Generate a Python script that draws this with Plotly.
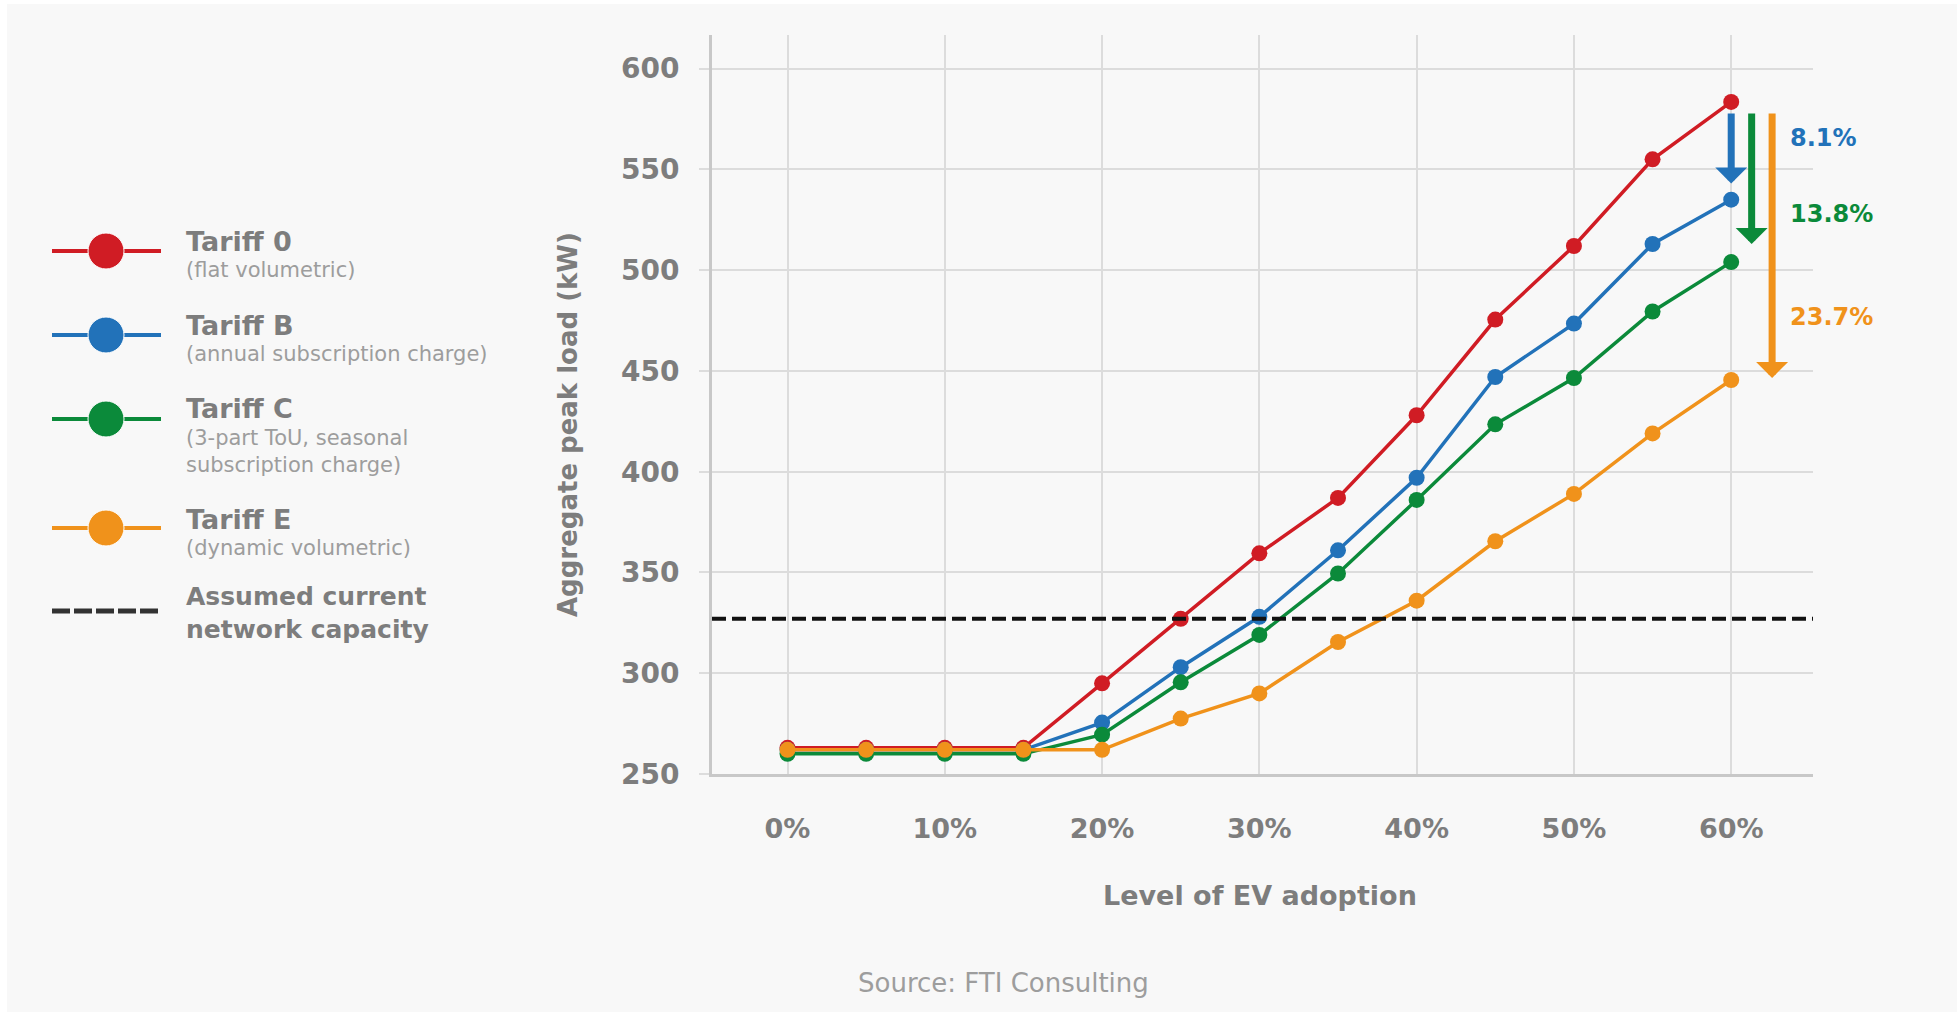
import plotly.graph_objects as go

# ---------------- data ----------------
EV_LEVELS = [0, 5, 10, 15, 20, 25, 30, 35, 40, 45, 50, 55, 60]
TARIFF_0 = [263, 263, 263, 263, 295, 327, 359.5, 387, 428, 475.5, 512, 555, 583.5]
TARIFF_B = [262, 262, 262, 262, 275.5, 303, 328, 361, 397, 447, 473.5, 513, 535]
TARIFF_C = [260, 260, 260, 260, 269.5, 295.5, 319, 349.5, 386, 423.5, 446.5, 479.5, 504]
TARIFF_E = [262, 262, 262, 262, 262, 277.5, 290, 315.5, 336, 365.5, 389, 419, 445.5]
CAPACITY = 327

X_TICKS = [0, 10, 20, 30, 40, 50, 60]
X_TICK_TEXT = ["0%", "10%", "20%", "30%", "40%", "50%", "60%"]
Y_TICKS = [250, 300, 350, 400, 450, 500, 550, 600]

SERIES_NAMES = ["Tariff 0", "Tariff B", "Tariff C", "Tariff E"]
SERIES_NOTES = ["(flat volumetric)", "(annual subscription charge)",
                "(3-part ToU, seasonal<br>subscription charge)", "(dynamic volumetric)"]
CAPACITY_LABEL = "Assumed current<br>network capacity"

# reduction arrows (from Tariff 0 peak at 60%)
ARROW_X = [60, 61.3, 62.6]
ARROW_FROM = 578.5
ARROW_TO = [543, 513, 446.5]
PCT_LABELS = ["8.1%", "13.8%", "23.7%"]
PCT_LABEL_X = 63.6
PCT_LABEL_Y = [565.5, 528, 477]

SOURCE = "Source: FTI Consulting"
X_TITLE = "Level of EV adoption"
Y_TITLE = "Aggregate peak load (kW)"

# ---------------- style ----------------
W, H = 1957, 1017            # reference pixel grid
FIG_H = 1034                 # rendered height (capture is squeezed back to 1017)
FONT = "DejaVu Sans"
RED, BLUE, GREEN, ORANGE = "#d01c24", "#2272b9", "#0b8a3a", "#f0921b"
COLORS = [RED, BLUE, GREEN, ORANGE]
TXT = "#7d7d7d"
TXT_LIGHT = "#9d9d9d"
GRID = "#dcdcdc"
AXIS = "#c8c8c8"
BG = "#f8f8f8"
CLEAR = "rgba(0,0,0,0)"

# plot area in reference pixels
PL, PR, PT, PB = 712, 1813, 35, 774

fig = go.Figure()

for name, ys, col in zip(SERIES_NAMES, [TARIFF_0, TARIFF_B, TARIFF_C, TARIFF_E], COLORS):
    fig.add_trace(go.Scatter(
        x=EV_LEVELS, y=ys, name=name, mode="lines+markers",
        line=dict(color=col, width=3.5),
        marker=dict(color=col, size=16, opacity=1),
        showlegend=False, cliponaxis=False,
    ))

# capacity line
fig.add_shape(type="line", xref="x domain", x0=0, x1=1, yref="y", y0=CAPACITY, y1=CAPACITY,
              line=dict(color="#111111", width=4, dash="14px,6px"), layer="above")

# ---------------- custom legend on pixel axes ----------------
LEG_Y = [251, 335, 419, 528]
TITLE_Y = [241, 325, 408, 519]
NOTE_Y = [270, 354, 451, 548]
for col, ly in zip(COLORS, LEG_Y):
    fig.add_trace(go.Scatter(
        x=[52, 106, 161], y=[ly] * 3, mode="lines+markers", xaxis="x2", yaxis="y2",
        line=dict(color=col, width=4), marker=dict(color=col, size=[0, 36, 0], opacity=1),
        showlegend=False, hoverinfo="skip",
    ))
fig.add_trace(go.Scatter(
    x=[52, 161], y=[611] * 2, mode="lines", xaxis="x2", yaxis="y2",
    line=dict(color="#333333", width=5, dash="18px,4px"), showlegend=False, hoverinfo="skip",
))

annotations = []
for name, note, ty, ny in zip(SERIES_NAMES, SERIES_NOTES, TITLE_Y, NOTE_Y):
    annotations.append(dict(x=184, y=ty, xref="x2", yref="y2", text=name, showarrow=False,
                            xanchor="left", yanchor="middle",
                            font=dict(family=FONT, size=27, color=TXT, weight="bold")))
    annotations.append(dict(x=184, y=ny, xref="x2", yref="y2", text=note, showarrow=False,
                            xanchor="left", yanchor="middle", align="left",
                            font=dict(family=FONT, size=21, color=TXT_LIGHT)))
annotations.append(dict(x=184, y=613, xref="x2", yref="y2", text=CAPACITY_LABEL, showarrow=False,
                        xanchor="left", yanchor="middle", align="left",
                        font=dict(family=FONT, size=25, color=TXT, weight="bold")))

# reduction arrows and labels
for ax_, to, col, lab, ly in zip(ARROW_X, ARROW_TO, COLORS[1:], PCT_LABELS, PCT_LABEL_Y):
    annotations.append(dict(x=ax_, y=to, ax=ax_, ay=ARROW_FROM, xref="x", yref="y",
                            axref="x", ayref="y", text="", showarrow=True,
                            arrowhead=1, arrowsize=0.76, arrowwidth=7, arrowcolor=col))
    annotations.append(dict(x=PCT_LABEL_X, y=ly, xref="x", yref="y", text=lab, showarrow=False,
                            xanchor="left", yanchor="middle",
                            font=dict(family=FONT, size=24, color=col, weight="bold")))

# axis titles & source (pixel positions)
annotations.append(dict(x=568, y=425, xref="x2", yref="y2", text=Y_TITLE,
                        textangle=-90, showarrow=False, xanchor="center", yanchor="middle",
                        font=dict(family=FONT, size=26, color=TXT, weight="bold")))
annotations.append(dict(x=1260, y=895, xref="x2", yref="y2", text=X_TITLE,
                        showarrow=False, xanchor="center", yanchor="middle",
                        font=dict(family=FONT, size=27, color=TXT, weight="bold")))
annotations.append(dict(x=1003, y=983, xref="x2", yref="y2", text=SOURCE,
                        showarrow=False, xanchor="center", yanchor="middle",
                        font=dict(family=FONT, size=26, color=TXT_LIGHT)))

# thin white outer border as in the reference
for x0, x1, y0, y1 in [(0, 7, 0, H), (0, W, 0, 4), (0, W, H - 5, H)]:
    fig.add_shape(type="rect", xref="x2", yref="y2", x0=x0, x1=x1, y0=y0, y1=y1,
                  fillcolor="white", line=dict(width=0), layer="below")

fig.update_layout(
    width=W, height=FIG_H, autosize=False,
    margin=dict(l=0, r=0, t=0, b=0),
    paper_bgcolor=BG, plot_bgcolor=CLEAR,
    font=dict(family=FONT, color=TXT),
    annotations=annotations,
    showlegend=False,
    xaxis=dict(domain=[PL / W, PR / W], range=[-4.8, 65.2], tickvals=X_TICKS, ticktext=X_TICK_TEXT,
               showgrid=True, gridcolor=GRID, gridwidth=2, zeroline=False,
               showline=True, linecolor=AXIS, linewidth=3, ticks="",
               ticklabelstandoff=29,
               tickfont=dict(family=FONT, size=27, color=TXT, weight="bold"), anchor="y"),
    yaxis=dict(domain=[1 - PB / H, 1 - PT / H], range=[250, 616.7], tickvals=Y_TICKS,
               showgrid=True, gridcolor=GRID, gridwidth=2, zeroline=False,
               showline=True, linecolor=AXIS, linewidth=3,
               ticks="outside", ticklen=10, tickwidth=2, tickcolor=GRID,
               ticklabelstandoff=14,
               tickfont=dict(family=FONT, size=28, color=TXT, weight="bold"), anchor="x"),
    xaxis2=dict(domain=[0, 1], range=[0, W], visible=False, anchor="y2", fixedrange=True),
    yaxis2=dict(domain=[0, 1], range=[H, 0], visible=False, anchor="x2", fixedrange=True),
)

POST = (
    "document.documentElement.style.margin='0';"
    "document.documentElement.style.overflow='hidden';"
    "document.body.style.margin='0';"
    "document.body.style.overflow='hidden';"
    "document.body.style.fontSize='0';"
    "document.body.style.lineHeight='0';"
)

fig.write_html("out.html", config={"displayModeBar": False}, post_script=POST)
